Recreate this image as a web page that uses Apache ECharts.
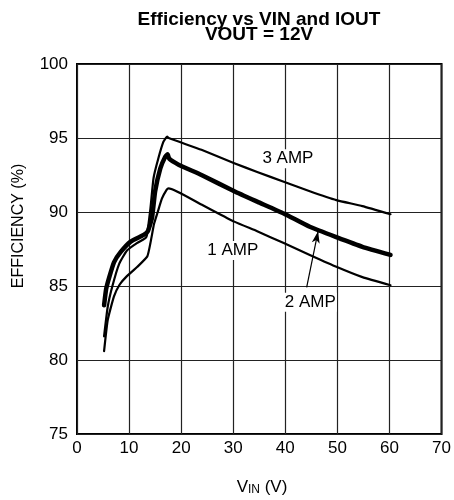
<!DOCTYPE html>
<html>
<head>
<meta charset="utf-8">
<script src="https://cdn.jsdelivr.net/npm/echarts@6/dist/echarts.min.js"></script>
<style>
html,body{margin:0;padding:0;background:#fff;}
#c{width:454px;height:500px;}
</style>
</head>
<body>
<div id="c"></div>
<script>
// ---- data (VIN in volts, efficiency in %) ----
var amp1 = [[5.2,80.6],[5.9,82.7],[7.1,84.3],[8.2,85.1],[9.4,85.6],[11.6,86.3],[13.5,87.0],[14.1,87.9],[14.8,89.2],[15.5,90.0],[16.3,90.9],[17.2,91.5],[17.6,91.6],[23.9,90.5],[30.2,89.35],[34.6,88.7],[39.7,87.9],[44.7,87.1],[49.8,86.3],[54.8,85.6],[60.2,85.05]];
var amp2 = [[5.2,83.7],[5.6,84.8],[6.2,85.6],[7.1,86.6],[8.4,87.3],[10.3,88.0],[12.8,88.45],[13.6,88.7],[14.4,89.6],[15.0,91.4],[16.0,92.95],[16.9,93.7],[17.4,93.9],[17.7,93.6],[19.5,93.2],[23.9,92.5],[30.2,91.4],[34.6,90.7],[39.7,89.9],[44.7,89.0],[49.8,88.3],[54.8,87.65],[60.2,87.1]];
var amp3 = [[5.2,81.6],[5.9,83.6],[6.8,85.0],[8.1,86.5],[9.6,87.4],[11.5,87.9],[13.0,88.2],[13.4,88.4],[14.1,90.25],[14.7,92.3],[15.6,93.6],[16.6,94.75],[17.3,95.1],[17.6,95.0],[23.9,94.2],[30.2,93.3],[34.6,92.7],[39.7,92.05],[44.7,91.4],[49.8,90.8],[54.8,90.4],[60.2,89.85]];
var seriesNames = ['1 AMP','2 AMP','3 AMP'];
var labelPos = [[29.9,87.4],[44.8,83.9],[40.5,93.6]];
var arrowFrom = [44.1,84.9];
var arrowTo = [46.3,88.7];
var xTicks = [0,10,20,30,40,50,60,70];
var yTicks = [75,80,85,90,95,100];

var chart = echarts.init(document.getElementById('c'));
var FONT = '"Liberation Sans", Arial, Helvetica, sans-serif';

function labelPoint(name, pos) {
  return {
    symbol: 'circle', symbolSize: 0, silent: true,
    data: [{coord: pos, value: name}],
    label: {show: true, position: 'inside', formatter: name, color: '#000',
      fontFamily: FONT, fontSize: 17, backgroundColor: '#fff', padding: [1, 1]}
  };
}

var datasets = [amp1, amp2, amp3];
var widths = [2.2, 4.5, 2.2];
var series = datasets.map(function (d, i) {
  var s = {
    type: 'line', name: seriesNames[i], data: d, showSymbol: false, symbol: 'none',
    smooth: 0.15, lineStyle: {color: '#000', width: widths[i], cap: 'round', join: 'round'},
    animation: false, z: 3,
    markPoint: labelPoint(seriesNames[i], labelPos[i])
  };
  if (i === 1) {
    s.markLine = {
      silent: true, symbol: ['none', 'arrow'], symbolSize: [6, 12],
      label: {show: false},
      lineStyle: {color: '#000', width: 1.2, type: 'solid'},
      data: [[{coord: arrowFrom}, {coord: arrowTo}]]
    };
  }
  return s;
});

chart.setOption({
  animation: false,
  backgroundColor: '#fff',
  title: {
    text: 'Efficiency vs VIN and IOUT\nVOUT = 12V',
    left: 254, top: 7, textAlign: 'center',
    textStyle: {fontFamily: FONT, fontWeight: 'bold', fontSize: 19, lineHeight: 15, color: '#000'}
  },
  grid: {left: 77, right: 7, top: 64, bottom: 66, show: true, borderColor: '#000', borderWidth: 2, backgroundColor: 'transparent'},
  xAxis: {
    type: 'value', min: xTicks[0], max: xTicks[xTicks.length - 1], interval: 10,
    axisLine: {show: false}, axisTick: {show: false},
    splitLine: {show: true, lineStyle: {color: '#222', width: 1.2}},
    axisLabel: {color: '#000', fontFamily: FONT, fontSize: 17, margin: 6}
  },
  yAxis: {
    type: 'value', min: yTicks[0], max: yTicks[yTicks.length - 1], interval: 5,
    axisLine: {show: false}, axisTick: {show: false},
    splitLine: {show: true, lineStyle: {color: '#222', width: 1.2}},
    axisLabel: {color: '#000', fontFamily: FONT, fontSize: 17, margin: 9}
  },
  graphic: [
    {type: 'text', x: 19, y: 226, rotation: Math.PI / 2,
      style: {text: 'EFFICIENCY (%)', fill: '#000', font: '16px ' + FONT, align: 'center', verticalAlign: 'middle'}},
    {type: 'text', x: 262, y: 486,
      style: {text: '{m|V}{s|IN}{m| (V)}', align: 'center', verticalAlign: 'middle',
        rich: {m: {fontFamily: FONT, fontSize: 17, fill: '#000', lineHeight: 20, verticalAlign: 'bottom'},
               s: {fontFamily: FONT, fontSize: 12, fill: '#000', lineHeight: 20, verticalAlign: 'bottom', padding: [6, 0, 0, 0]}}}}
  ],
  series: series
});
</script>
</body>
</html>
